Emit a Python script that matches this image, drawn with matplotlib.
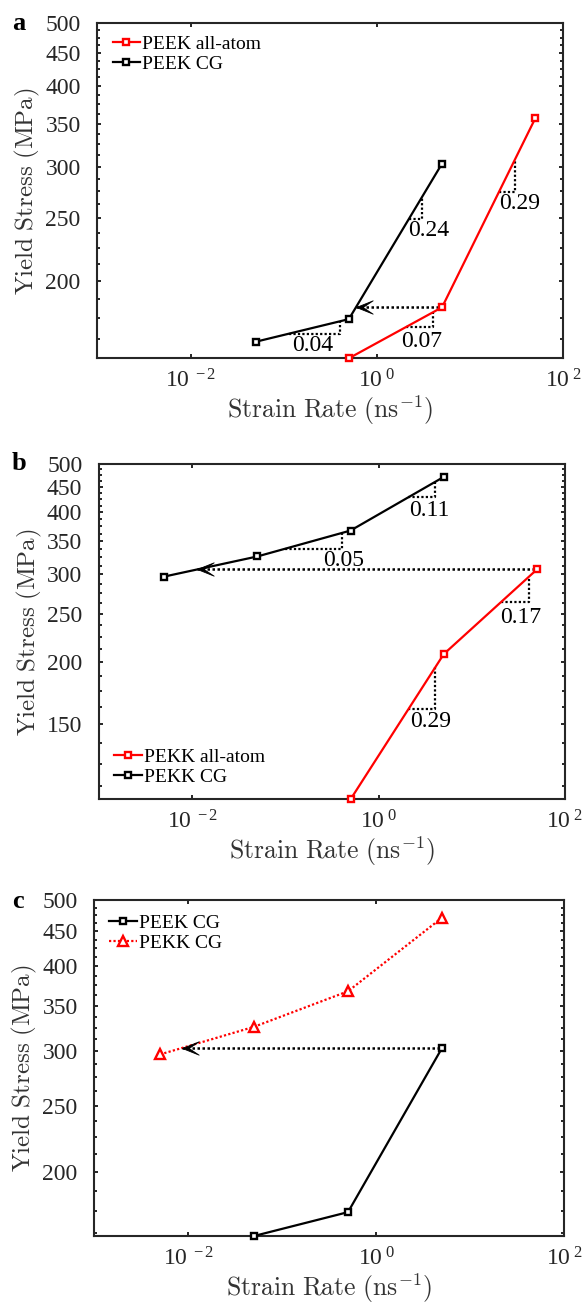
import numpy as np
import matplotlib
matplotlib.use("Agg")
import matplotlib.pyplot as plt
from matplotlib.path import Path
from matplotlib.ticker import FixedLocator, NullFormatter, NullLocator

plt.rcParams["font.family"] = ["Liberation Serif", "DejaVu Serif"]
plt.rcParams["mathtext.fontset"] = "custom"
plt.rcParams["mathtext.rm"] = "Liberation Serif"
plt.rcParams["mathtext.it"] = "Liberation Serif:italic"
plt.rcParams["mathtext.bf"] = "Liberation Serif:bold"

# ---- yield stress (MPa) versus strain rate (1/ns) ----
rate_peek_cg = [0.05, 0.5, 5]
stress_peek_cg = [161.0, 174.5, 303.5]
rate_peek_aa = [0.5, 5, 50]
stress_peek_aa = [151.8, 182.0, 356.5]
rate_pekk_cg = [0.005, 0.05, 0.5, 5]
stress_pekk_cg = [297.0, 326.0, 367.5, 471.0]
rate_pekk_aa = [0.5, 5, 50]
stress_pekk_aa = [106.0, 207.5, 307.0]

# fitted slopes written next to each segment
slopes_peek_cg = ["0.04", "0.24"]
slopes_peek_aa = ["0.07", "0.29"]
slopes_pekk_cg = ["0.05", "0.11"]
slopes_pekk_aa = ["0.29", "0.17"]

x_ticks = [1e-2, 1e0, 1e2]
x_tick_labels = [r"$\mathregular{10^{\ -2}}$", r"$\mathregular{10^{\ 0}}$", r"$\mathregular{10^{\ 2}}$"]
y_ticks = [150, 200, 250, 300, 350, 400, 450, 500]
y_minor = np.arange(100, 500, 12.5)

AX_COLOR = "#262626"
RED = "#ff0000"
TICK_FS = 17
DOT = (0, (1, 1))

# arrowhead glyph (tip at the origin, pointing left)
HEAD = Path([(0, 0), (1, 0.40), (0.40, 0), (1, -0.40), (0, 0)],
            [Path.MOVETO, Path.LINETO, Path.LINETO, Path.LINETO, Path.CLOSEPOLY])

fig = plt.figure(figsize=(5.85, 13.05), dpi=100)
W, H = 585.0, 1305.0


def make_axes(left, right, top, bottom):
    return fig.add_axes([left / W, 1 - bottom / H, (right - left) / W, (bottom - top) / H])


def style_axes(ax, ymin):
    ax.set_xscale("log")
    ax.set_yscale("log")
    ax.set_xlim(1e-3, 1e2)
    ax.set_ylim(ymin, 500)
    ax.xaxis.set_major_locator(FixedLocator(x_ticks))
    ax.set_xticklabels(x_tick_labels)
    ax.xaxis.set_minor_locator(NullLocator())
    ax.yaxis.set_major_locator(FixedLocator(y_ticks))
    ax.set_yticklabels([str(v) for v in y_ticks])
    ax.yaxis.set_minor_locator(FixedLocator(y_minor))
    ax.yaxis.set_minor_formatter(NullFormatter())
    for sp in ax.spines.values():
        sp.set_color(AX_COLOR)
        sp.set_linewidth(1.5)
    ax.tick_params(which="both", direction="in", top=True, right=True,
                   color=AX_COLOR, width=1.4, labelcolor=AX_COLOR, labelsize=TICK_FS)
    ax.tick_params(which="major", length=3.2)
    ax.tick_params(which="minor", length=2.4)
    ax.tick_params(axis="y", pad=12)
    ax.tick_params(axis="x", pad=8)
    ax.set_xlabel(r"$\mathrm{Strain\ Rate\ (ns^{-1})}$", math_fontfamily="cm",
                  fontsize=18.5, color="#333333")
    ax.set_ylabel(r"$\mathrm{Yield\ Stress\ (MPa)}$", math_fontfamily="cm",
                  fontsize=18, color="#333333")
    ax.xaxis.set_label_coords(0.5, -0.104)
    ax.yaxis.set_label_coords(-0.118, 0.5)


def series(ax, x, y, color, label, marker="s", ls="-", ms=4.6):
    ax.plot(x, y, color=color, ls=ls, lw=1.6, marker=marker, ms=ms,
            mfc="white", mec=color, mew=1.7, label=label, clip_on=False, zorder=3)


def slope_triangle(ax, x, y, i, f0, f1, text, dx=0.0, dy=-1.0):
    lx0, lx1 = np.log10(x[i]), np.log10(x[i + 1])
    ly0, ly1 = np.log10(y[i]), np.log10(y[i + 1])
    xa, ya = 10 ** (lx0 + f0 * (lx1 - lx0)), 10 ** (ly0 + f0 * (ly1 - ly0))
    xb, yb = 10 ** (lx0 + f1 * (lx1 - lx0)), 10 ** (ly0 + f1 * (ly1 - ly0))
    ax.plot([xa, xb, xb], [ya, ya, yb], color="k", ls=DOT, lw=1.6, zorder=2)
    ax.annotate(text, xy=(xa, ya), xytext=(dx, dy), textcoords="offset points",
                ha="left", va="top", fontsize=TICK_FS, color="k")


def shift_arrow(ax, x0, y0, x, y):
    lx, ly = np.log10(x), np.log10(y)
    lt = np.log10(y0)
    xt = x[0]
    for j in range(len(x) - 1):
        if min(ly[j], ly[j + 1]) <= lt <= max(ly[j], ly[j + 1]):
            t = (lt - ly[j]) / (ly[j + 1] - ly[j])
            xt = 10 ** (lx[j] + t * (lx[j + 1] - lx[j]))
            break
    ax.plot([xt, x0], [y0, y0], color="k", ls=DOT, lw=1.8, zorder=2)
    ax.plot([xt], [y0], marker=HEAD, ms=24, color="k", mew=0.6, ls="none", zorder=4)


def panel_letter(letter, x_px, base_px):
    fig.text(x_px / W, 1 - base_px / H, letter, fontsize=19, fontweight="bold",
             va="baseline", ha="left", color="k")


def add_legend(ax, loc, anchor):
    ax.legend(loc=loc, bbox_to_anchor=anchor, frameon=False, fontsize=14,
              handlelength=1.4, handletextpad=0.1, labelspacing=0.12, borderpad=0,
              borderaxespad=0)


# ---------------- a ----------------
ax_a = make_axes(97.3, 563.3, 23.3, 358.3)
series(ax_a, rate_peek_aa, stress_peek_aa, RED, "PEEK all-atom")
series(ax_a, rate_peek_cg, stress_peek_cg, "k", "PEEK CG")
style_axes(ax_a, min(stress_peek_aa + stress_peek_cg))
slope_triangle(ax_a, rate_peek_cg, stress_peek_cg, 0, 0.36, 0.90, slopes_peek_cg[0], dx=2)
slope_triangle(ax_a, rate_peek_cg, stress_peek_cg, 1, 0.646, 0.78, slopes_peek_cg[1], dx=-1)
slope_triangle(ax_a, rate_peek_aa, stress_peek_aa, 0, 0.61, 0.90, slopes_peek_aa[0], dx=-3, dy=-2.5)
slope_triangle(ax_a, rate_peek_aa, stress_peek_aa, 1, 0.61, 0.78, slopes_peek_aa[1], dx=0)
shift_arrow(ax_a, rate_peek_aa[1], stress_peek_aa[1], rate_peek_cg, stress_peek_cg)
add_legend(ax_a, "upper left", (0.033, 0.965))
panel_letter("a", 12, 30)

# ---------------- b ----------------
ax_b = make_axes(99.0, 565.0, 464.0, 799.3)
series(ax_b, rate_pekk_aa, stress_pekk_aa, RED, "PEKK all-atom")
series(ax_b, rate_pekk_cg, stress_pekk_cg, "k", "PEKK CG")
style_axes(ax_b, min(stress_pekk_aa + stress_pekk_cg))
slope_triangle(ax_b, rate_pekk_cg, stress_pekk_cg, 1, 0.30, 0.91, slopes_pekk_cg[0], dx=27)
slope_triangle(ax_b, rate_pekk_cg, stress_pekk_cg, 2, 0.62, 0.904, slopes_pekk_cg[1], dx=0.5, dy=-2)
slope_triangle(ax_b, rate_pekk_aa, stress_pekk_aa, 0, 0.62, 0.91, slopes_pekk_aa[0], dx=1)
slope_triangle(ax_b, rate_pekk_aa, stress_pekk_aa, 1, 0.61, 0.91, slopes_pekk_aa[1], dx=0, dy=-3)
shift_arrow(ax_b, rate_pekk_aa[2], stress_pekk_aa[2], rate_pekk_cg, stress_pekk_cg)
add_legend(ax_b, "lower left", (0.033, 0.04))
panel_letter("b", 12, 470)

# ---------------- c ----------------
ax_c = make_axes(94.3, 564.3, 900.0, 1236.0)
series(ax_c, rate_peek_cg, stress_peek_cg, "k", "PEEK CG")
series(ax_c, rate_pekk_cg, stress_pekk_cg, RED, "PEKK CG", marker="^", ls=DOT, ms=7)
style_axes(ax_c, min(stress_peek_cg + stress_pekk_cg))
shift_arrow(ax_c, rate_peek_cg[2], stress_peek_cg[2], rate_pekk_cg, stress_pekk_cg)
add_legend(ax_c, "upper left", (0.032, 0.958))
panel_letter("c", 12, 908)

fig.savefig("out.png", dpi=100)
